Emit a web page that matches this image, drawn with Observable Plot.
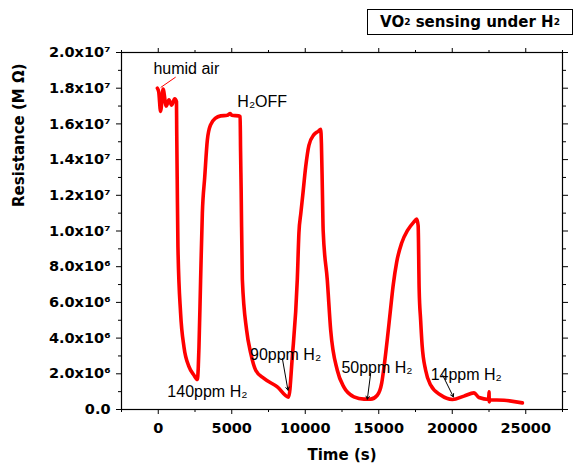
<!DOCTYPE html>
<html>
<head>
<meta charset="utf-8">
<script src="https://cdn.jsdelivr.net/npm/d3@7"></script>
<script src="https://cdn.jsdelivr.net/npm/@observablehq/plot@0.6"></script>
<style>
  body { margin: 0; background: #fff; }
  #wrap { position: relative; width: 574px; height: 464px; }
  #title {
    position: absolute; left: 367px; top: 9px; width: 206px; height: 26px;
    border: 1px solid #000; box-sizing: border-box; background: #fff;
    font: bold 15px "DejaVu Sans", Verdana, sans-serif; color: #000;
    display: flex; align-items: center; justify-content: center; white-space: nowrap;
  }
  #title sub { font-size: 0.6em; vertical-align: -0.45em; line-height: 0; }
</style>
</head>
<body>
<div id="wrap">
  <div id="chart"></div>
  <div id="title">VO<sub>2</sub>&nbsp;sensing under H<sub>2</sub></div>
</div>
<script>
// ---- data ----
const time = [
  -60, 30, 160, 330, 540, 730, 910, 1120, 1240, 1255, 1290, 1340, 1520, 1750, 2090, 2430, 2660,
  2720, 2770, 2880, 3000, 3160, 3340, 3560, 3900, 4250, 4700, 4900, 5000, 5470, 5570, 5600, 5640, 5720,
  6010, 6290, 6630, 7190, 8100, 8870, 9120, 9460, 9570, 9700, 9830, 10030, 10250, 10590, 10910, 11050,
  11100, 11165, 11220, 11500, 11730, 12180, 12630, 13310, 13990, 14450, 14900, 15200, 15400,
  15590, 15780, 15980, 16220, 16560, 16970, 17380, 17580, 17680, 17750, 17850, 17950, 18190,
  18530, 19210, 20010, 20800, 21480, 21820, 22480, 22500, 22520, 22540, 23520, 24770
];
const resistance = [
  1.80e7, 1.78e7, 1.67e7, 1.795e7, 1.70e7, 1.735e7, 1.705e7, 1.74e7, 1.725e7, 1.57e7, 1.29e7, 9.1e6, 5.4e6, 3.5e6, 2.4e6, 1.92e6, 1.68e6,
  2.3e6, 3.5e6, 7.2e6, 1.10e7, 1.30e7, 1.51e7, 1.595e7, 1.632e7, 1.645e7, 1.648e7, 1.658e7, 1.648e7, 1.645e7, 1.64e7, 1.45e7, 1.23e7, 7.3e6,
  4.45e6, 3.16e6, 2.20e6, 1.74e6, 1.27e6, 6.9e5, 2.95e6, 7.3e6, 9.9e6, 1.1e7, 1.2e7, 1.36e7, 1.48e7, 1.54e7, 1.56e7, 1.57e7,
  1.49e7, 1.23e7, 1.0e7, 7.25e6, 4.45e6, 2.2e6, 1.25e6, 7.1e5, 5.8e5, 5.8e5, 8.0e5, 1.48e6, 2.65e6,
  4.0e6, 5.45e6, 6.95e6, 8.26e6, 9.33e6, 1.005e7, 1.05e7, 1.067e7, 1.03e7, 6.7e6, 5.0e6, 3.6e6, 2.2e6,
  1.37e6, 8.1e5, 5.6e5, 7.5e5, 9.3e5, 6.7e5, 5.6e5, 9.9e5, 4.3e5, 5.5e5, 5.2e5, 3.7e5
];

const xTicks = [0, 5000, 10000, 15000, 20000, 25000];
const xTickLabels = ["0", "5000", "10000", "15000", "20000", "25000"];
const xMinorTicks = [-2500, 2500, 7500, 12500, 17500, 22500, 27500];
const yTicks = [0, 2e6, 4e6, 6e6, 8e6, 1e7, 1.2e7, 1.4e7, 1.6e7, 1.8e7, 2e7];
const yTickLabels = ["0.0", "2.0x10⁶", "4.0x10⁶", "6.0x10⁶", "8.0x10⁶", "1.0x10⁷", "1.2x10⁷", "1.4x10⁷", "1.6x10⁷", "1.8x10⁷", "2.0x10⁷"];
const yMinorTicks = [1e6, 3e6, 5e6, 7e6, 9e6, 1.1e7, 1.3e7, 1.5e7, 1.7e7, 1.9e7];

const noteText = ["humid air", "H₂OFF", "140ppm H₂", "90ppm H₂", "50ppm H₂", "14ppm H₂"];
const noteTime = [-330, 5380, 620, 6240, 12460, 18530];
const noteRes = [1.879e7, 1.694e7, 6.73e5, 2.80e6, 2.02e6, 1.68e6];

const arrowFromTime = [8442, 14449, 19349];
const arrowFromRes = [2.86e6, 2.02e6, 1.924e6];
const arrowToTime = [8823, 14225, 20076];
const arrowToRes = [1.083e6, 5.78e5, 7.07e5];
const humidLine = {x1: 1184, y1: 1.862e7, x2: 163, y2: 1.804e7};

const xTitle = "Time (s)";
const yTitle = "Resistance (M Ω)";

// ---- build ----
const data = time.map((t, i) => ({t, r: resistance[i]}));
const xLab = new Map(xTicks.map((d, i) => [d, xTickLabels[i]]));
const yLab = new Map(yTicks.map((d, i) => [d, yTickLabels[i]]));
const arrows = arrowFromTime.map((d, i) => ({x1: d, y1: arrowFromRes[i], x2: arrowToTime[i], y2: arrowToRes[i]}));

const chart = Plot.plot({
  width: 574,
  height: 464,
  marginLeft: 121,
  marginRight: 12,
  marginTop: 52,
  marginBottom: 55,
  style: {fontFamily: "'DejaVu Sans', Verdana, sans-serif", fontSize: "14.5px", fontWeight: "bold", color: "#000", background: "#fff"},
  x: {domain: [-2500, 27500]},
  y: {domain: [0, 2e7]},
  marks: [
    Plot.axisX({ticks: xTicks, tickFormat: d => xLab.get(d), tickSize: 5, tickPadding: 8, label: null}),
    Plot.axisX({ticks: xMinorTicks, tickFormat: () => "", tickSize: 3, label: null}),
    Plot.axisX({anchor: "top", ticks: xTicks, tickFormat: () => "", tickSize: 5, label: null}),
    Plot.axisX({anchor: "top", ticks: xMinorTicks, tickFormat: () => "", tickSize: 3, label: null}),
    Plot.axisY({ticks: yTicks, tickFormat: d => yLab.get(d), tickSize: 5, tickPadding: 6, label: null}),
    Plot.axisY({ticks: yMinorTicks, tickFormat: () => "", tickSize: 3, label: null}),
    Plot.axisY({anchor: "right", ticks: yTicks, tickFormat: () => "", tickSize: 5, label: null}),
    Plot.axisY({anchor: "right", ticks: yMinorTicks, tickFormat: () => "", tickSize: 3, label: null}),
    Plot.frame({stroke: "#000", strokeWidth: 1.2}),
    Plot.line(data, {x: "t", y: "r", stroke: "#ff0000", strokeWidth: 3.6, strokeLinejoin: "round", curve: "monotone-x"}),
    Plot.link([humidLine], {x1: "x1", y1: "y1", x2: "x2", y2: "y2", stroke: "#ff0000", strokeWidth: 1}),
    Plot.arrow(arrows, {x1: "x1", y1: "y1", x2: "x2", y2: "y2", stroke: "#000", strokeWidth: 1, headLength: 5}),
    Plot.text(noteText, {x: (d, i) => noteTime[i], y: (d, i) => noteRes[i], text: d => d, textAnchor: "start", lineAnchor: "bottom",
      fontFamily: "'Liberation Sans', Arial, sans-serif", fontSize: 16, fontWeight: "normal", fill: "#000"}),
    Plot.text([xTitle], {frameAnchor: "bottom", dy: 46, text: d => d, fontSize: 15, fontWeight: "bold", lineAnchor: "middle", fill: "#000"}),
    Plot.text([yTitle], {frameAnchor: "left", dx: -102, dy: -24, rotate: -90, text: d => d, fontSize: 15, fontWeight: "bold", lineAnchor: "middle", fill: "#000"})
  ]
});
document.getElementById("chart").appendChild(chart);
</script>
</body>
</html>
